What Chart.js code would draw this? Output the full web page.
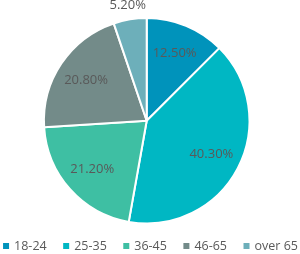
<!DOCTYPE html>
<html>
<head>
<meta charset="utf-8">
<script src="https://cdn.jsdelivr.net/npm/chart.js@4/dist/chart.umd.min.js"></script>
<style>
  html, body { margin: 0; padding: 0; background: #fff; }
  #wrap { width: 300px; height: 254px; position: relative; }
</style>
</head>
<body>
<div id="wrap"><canvas id="myChart"></canvas></div>
<script>
const labels = ['18-24', '25-35', '36-45', '46-65', 'over 65'];
const values = [12.5, 40.3, 21.2, 20.8, 5.2];
const colors = ['#0093BB', '#00B7C3', '#3EBFA3', '#738B89', '#6DAFBA'];

const FONT = '"Open Sans", sans-serif';
const TEXT_COLOR = '#595959';

// percentage labels inside the slices, small ones outside
const sliceLabels = {
    id: 'sliceLabels',
    afterDatasetsDraw(chart) {
        const ctx = chart.ctx;
        const meta = chart.getDatasetMeta(0);
        ctx.save();
        ctx.font = '13px ' + FONT;
        ctx.fillStyle = TEXT_COLOR;
        ctx.textAlign = 'center';
        ctx.textBaseline = 'middle';
        meta.data.forEach((arc, i) => {
            const p = arc.getProps(['x', 'y', 'startAngle', 'endAngle', 'outerRadius'], true);
            const mid = (p.startAngle + p.endAngle) / 2;
            const r = values[i] < 10 ? p.outerRadius + 14 : p.outerRadius * 0.71;
            ctx.fillText(values[i].toFixed(2) + '%', p.x + Math.cos(mid) * r, p.y + Math.sin(mid) * r);
        });
        ctx.restore();
    }
};

// single-row legend along the bottom
const bottomLegend = {
    id: 'bottomLegend',
    afterDraw(chart) {
        const ctx = chart.ctx;
        const box = 6, gap = 5, spacing = 16.5;
        const y = 246;
        ctx.save();
        ctx.font = '12.5px ' + FONT;
        ctx.textBaseline = 'middle';
        const widths = labels.map(t => ctx.measureText(t).width);
        let total = widths.reduce((a, w) => a + box + gap + w, 0) + spacing * (labels.length - 1);
        let x = 150.5 - total / 2;
        labels.forEach((t, i) => {
            ctx.fillStyle = colors[i];
            ctx.fillRect(x, y - box / 2, box, box);
            x += box + gap;
            ctx.fillStyle = TEXT_COLOR;
            ctx.fillText(t, x, y + 0.5);
            x += widths[i] + spacing;
        });
        ctx.restore();
    }
};

const config = {
    type: 'pie',
    data: {
        labels: labels,
        datasets: [{
            data: values,
            backgroundColor: colors,
            borderColor: '#ffffff',
            borderWidth: 2
        }]
    },
    options: {
        responsive: true,
        maintainAspectRatio: false,
        animation: false,
        layout: {
            padding: { top: 17, bottom: 29.5, left: 0, right: 6.6 }
        },
        plugins: {
            legend: { display: false },
            tooltip: { enabled: false },
            title: { display: false }
        }
    },
    plugins: [sliceLabels, bottomLegend]
};

var ctx = document.getElementById('myChart').getContext('2d');
var myChart = new Chart(ctx, config);
</script>
</body>
</html>
